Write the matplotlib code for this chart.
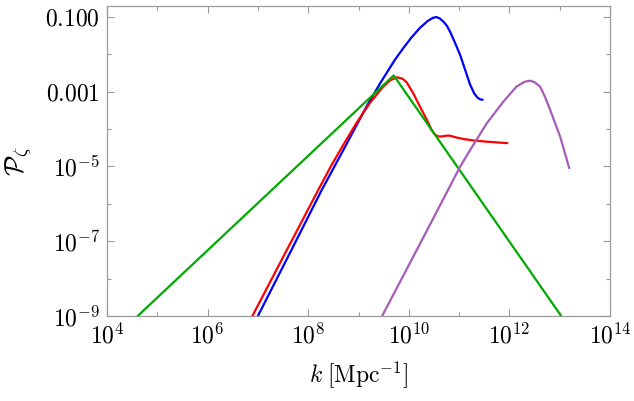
import matplotlib
matplotlib.use("Agg")
import matplotlib.pyplot as plt
import numpy as np
from matplotlib.ticker import FixedLocator, FixedFormatter, NullFormatter

plt.rcParams['mathtext.fontset'] = 'cm'
plt.rcParams['font.family'] = 'serif'
plt.rcParams['font.serif'] = ['DejaVu Serif']

# data: log10(k), log10(P)
blue_logk = [7.00, 7.65, 8.27, 8.70, 9.16, 9.43, 9.72, 9.89, 10.05, 10.22, 10.38, 10.48, 10.55, 10.62, 10.70, 10.76, 10.82, 10.92, 11.02, 11.12, 11.22, 11.30, 11.37, 11.42, 11.47]
blue_logp = [-9.0, -7.28, -5.63, -4.56, -3.40, -2.78, -2.16, -1.84, -1.56, -1.30, -1.11, -1.03, -1.01, -1.05, -1.15, -1.25, -1.40, -1.70, -2.02, -2.42, -2.82, -3.05, -3.17, -3.21, -3.22]

red_logk = [6.89, 7.55, 8.20, 8.45, 8.70, 8.96, 9.23, 9.49, 9.63, 9.77, 9.88, 9.96, 10.09, 10.22, 10.36, 10.45, 10.52, 10.58, 10.66, 10.74, 10.82, 10.92, 11.09, 11.30, 11.55, 11.96]
red_logp = [-9.0, -7.30, -5.63, -5.00, -4.42, -3.84, -3.30, -2.87, -2.70, -2.62, -2.66, -2.76, -3.05, -3.40, -3.76, -4.02, -4.15, -4.20, -4.20, -4.18, -4.18, -4.22, -4.27, -4.31, -4.34, -4.38]

green_logk = [4.61, 9.70, 13.03]
green_logp = [-9.0, -2.57, -9.0]

purple_logk = [9.47, 10.25, 11.02, 11.22, 11.55, 11.88, 12.14, 12.30, 12.41, 12.50, 12.61, 12.71, 12.81, 13.01, 13.19]
purple_logp = [-9.0, -7.00, -5.01, -4.56, -3.85, -3.27, -2.87, -2.74, -2.71, -2.75, -2.87, -3.15, -3.49, -4.21, -5.05]

xticks = [1e4, 1e6, 1e8, 1e10, 1e12, 1e14]
xticklabels = [r'$10^{4}$', r'$10^{6}$', r'$10^{8}$', r'$10^{10}$', r'$10^{12}$', r'$10^{14}$']
yticks = [1e-9, 1e-7, 1e-5, 1e-3, 1e-1]
yticklabels = [r'$10^{-9}$', r'$10^{-7}$', r'$10^{-5}$', r'$0.001$', r'$0.100$']

fig = plt.figure(figsize=(6.34, 4.01), dpi=100)
ax = fig.add_axes([107/634, 85/401, 503/634, 310/401])

series = [
    (blue_logk, blue_logp, (0, 0, 1)),
    (red_logk, red_logp, (1, 0, 0)),
    (green_logk, green_logp, (0, 0.667, 0)),
    (purple_logk, purple_logp, (0.647, 0.36, 0.72)),
]
for lk, lp, c in series:
    ax.plot(10**np.array(lk), 10**np.array(lp), color=c, lw=1.6,
            solid_capstyle='round', solid_joinstyle='round')

ax.set_xscale('log')
ax.set_yscale('log')
ax.set_xlim(1e4, 1e14)
ax.set_ylim(1e-9, 10**-0.714)

ax.xaxis.set_major_locator(FixedLocator(xticks))
ax.xaxis.set_major_formatter(FixedFormatter(xticklabels))
ax.xaxis.set_minor_locator(FixedLocator([1e5, 1e7, 1e9, 1e11, 1e13]))
ax.xaxis.set_minor_formatter(NullFormatter())
ax.yaxis.set_major_locator(FixedLocator(yticks))
ax.yaxis.set_major_formatter(FixedFormatter(yticklabels))
ax.yaxis.set_minor_locator(FixedLocator([1e-8, 1e-6, 1e-4, 1e-2]))
ax.yaxis.set_minor_formatter(NullFormatter())

frame_c = '#999999'
for s in ax.spines.values():
    s.set_color(frame_c)
    s.set_linewidth(0.9)
ax.tick_params(which='both', direction='in', top=True, right=True, color=frame_c,
               labelsize=17, labelcolor='black', width=0.8)
ax.tick_params(which='major', length=5, pad=5)
ax.tick_params(which='minor', length=3)

ax.set_xlabel(r'$k\;[\mathrm{Mpc}^{-1}]$', fontsize=17, labelpad=8)
ax.set_ylabel(r'$\mathcal{P}_\zeta$', fontsize=19, labelpad=8)

fig.savefig('out.png', dpi=100)
